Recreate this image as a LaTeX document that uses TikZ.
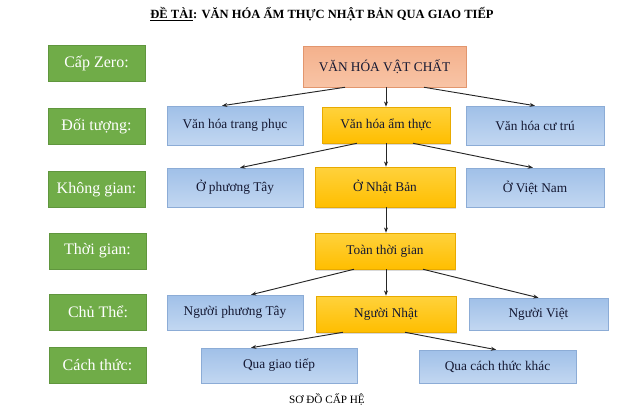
\documentclass[tikz,border=0pt]{standalone}
\usepackage{fontspec}
\setmainfont{Liberation Serif}
\usetikzlibrary{arrows.meta,shadows}
\definecolor{lvlgreen}{RGB}{112,172,72}
\definecolor{lvledge}{RGB}{96,150,62}
\definecolor{boxblue}{RGB}{160,192,232}
\definecolor{boxbluelt}{RGB}{194,215,241}
\definecolor{blueedge}{RGB}{140,172,214}
\definecolor{boxgold}{RGB}{255,190,0}
\definecolor{boxgoldlt}{RGB}{255,210,60}
\definecolor{goldedge}{RGB}{232,170,0}
\definecolor{salmon}{RGB}{244,177,140}
\definecolor{salmonlt}{RGB}{248,196,166}
\definecolor{salmonedge}{RGB}{226,150,110}
\definecolor{inkblue}{RGB}{20,24,50}

\begin{document}
\begin{tikzpicture}[x=0.75pt, y=-0.75pt,
  level/.style={draw=lvledge, fill=lvlgreen, text=white, inner sep=0pt,
    font=\fontsize{12}{14}\selectfont, minimum width=72.75pt, minimum height=27pt},
  bluebox/.style={draw=blueedge, top color=boxblue, bottom color=boxbluelt, text=inkblue,
    inner sep=0pt, font=\fontsize{10}{12}\selectfont,
    drop shadow={opacity=0.2, shadow xshift=0.6pt, shadow yshift=-0.9pt}},
  goldbox/.style={draw=goldedge, top color=boxgoldlt, bottom color=boxgold, text=inkblue,
    inner sep=0pt, font=\fontsize{10}{12}\selectfont,
    drop shadow={opacity=0.3, shadow xshift=0.6pt, shadow yshift=-1.2pt}},
  rootbox/.style={draw=salmonedge, top color=salmon, bottom color=salmonlt, text=inkblue,
    inner sep=0pt, font=\fontsize{10}{12}\selectfont},
  link/.style={-{Stealth[length=4pt,width=3pt]}, line width=0.7pt, black!85}]
  \useasboundingbox (0,0) rectangle (640,415);

  \node[font=\fontsize{9.4}{11}\selectfont\bfseries] (title) at (322,14)
    {\underline{ĐỀ TÀI}: VĂN HÓA ẨM THỰC NHẬT BẢN QUA GIAO TIẾP};

  \node[level] (capzero)   at (96.5,63.5) {Cấp Zero:};
  \node[level] (doituong)  at (96.5,126)  {Đối tượng:};
  \node[level] (khonggian) at (96.5,189.5) {Không gian:};
  \node[level] (thoigian)  at (97.5,251)  {Thời gian:};
  \node[level] (chuthe)    at (98,312)    {Chủ Thể:};
  \node[level] (cachthuc)  at (97.5,365.5) {Cách thức:};

  \node[rootbox, minimum width=122.25pt, minimum height=30.75pt] (vatchat) at (384.5,66.5) {VĂN HÓA VẬT CHẤT};

  \node[bluebox, minimum width=102pt, minimum height=29.25pt] (trangphuc) at (235,125.5) {Văn hóa trang phục};
  \node[goldbox, minimum width=96pt, minimum height=27pt] (amthuc) at (386,125) {Văn hóa ẩm thực};
  \node[bluebox, minimum width=103.5pt, minimum height=29.25pt] (cutru) at (535,125.5) {Văn hóa cư trú};

  \node[bluebox, minimum width=102pt, minimum height=29.25pt] (phuongtay) at (235,187.5) {Ở phương Tây};
  \node[goldbox, minimum width=105pt, minimum height=30pt] (nhatban) at (385,187) {Ở Nhật Bản};
  \node[bluebox, minimum width=103.5pt, minimum height=29.25pt] (vietnam) at (535,187.5) {Ở Việt Nam};

  \node[goldbox, minimum width=105pt, minimum height=27pt] (toanthoigian) at (385,251) {Toàn thời gian};

  \node[bluebox, minimum width=102pt, minimum height=26.25pt] (nguoitay) at (235,312.5) {Người phương Tây};
  \node[goldbox, minimum width=105pt, minimum height=27pt] (nguoinhat) at (386,314) {Người Nhật};
  \node[bluebox, minimum width=104.25pt, minimum height=24pt] (nguoiviet) at (538.5,314) {Người Việt};

  \node[bluebox, minimum width=117pt, minimum height=26.25pt] (giaotiep) at (279,365.5) {Qua giao tiếp};
  \node[bluebox, minimum width=117.75pt, minimum height=24.75pt] (cachkhac) at (497.5,366.5) {Qua cách thức khác};

  \node[font=\fontsize{8.4}{10}\selectfont] (caption) at (327,399) {SƠ ĐỒ CẤP HỆ};

  \draw[link] ([xshift=-29.6pt]vatchat.south) -- ([xshift=-9.75pt]trangphuc.north);
  \draw[link] (vatchat.south -| amthuc.north) -- (amthuc.north);
  \draw[link] ([xshift=29.6pt]vatchat.south) -- (cutru.north);

  \draw[link] ([xshift=-21.75pt]amthuc.south) -- ([xshift=3.75pt]phuongtay.north);
  \draw[link] (amthuc.south) -- (amthuc.south |- nhatban.north);
  \draw[link] ([xshift=20.25pt]amthuc.south) -- ([xshift=-1.5pt]vietnam.north);

  \draw[link] (nhatban.south -| amthuc.south) -- (amthuc.south |- toanthoigian.north);

  \draw[link] ([xshift=-23.25pt]toanthoigian.south) -- ([xshift=12pt]nguoitay.north);
  \draw[link] (toanthoigian.south -| amthuc.south) -- (amthuc.south |- nguoinhat.north);
  \draw[link] ([xshift=28.5pt]toanthoigian.south) -- (nguoiviet.north);

  \draw[link] ([xshift=-32.25pt]nguoinhat.south) -- ([xshift=-21pt]giaotiep.north);
  \draw[link] ([xshift=14.25pt]nguoinhat.south) -- ([xshift=-1pt]cachkhac.north);
\end{tikzpicture}
\end{document}
